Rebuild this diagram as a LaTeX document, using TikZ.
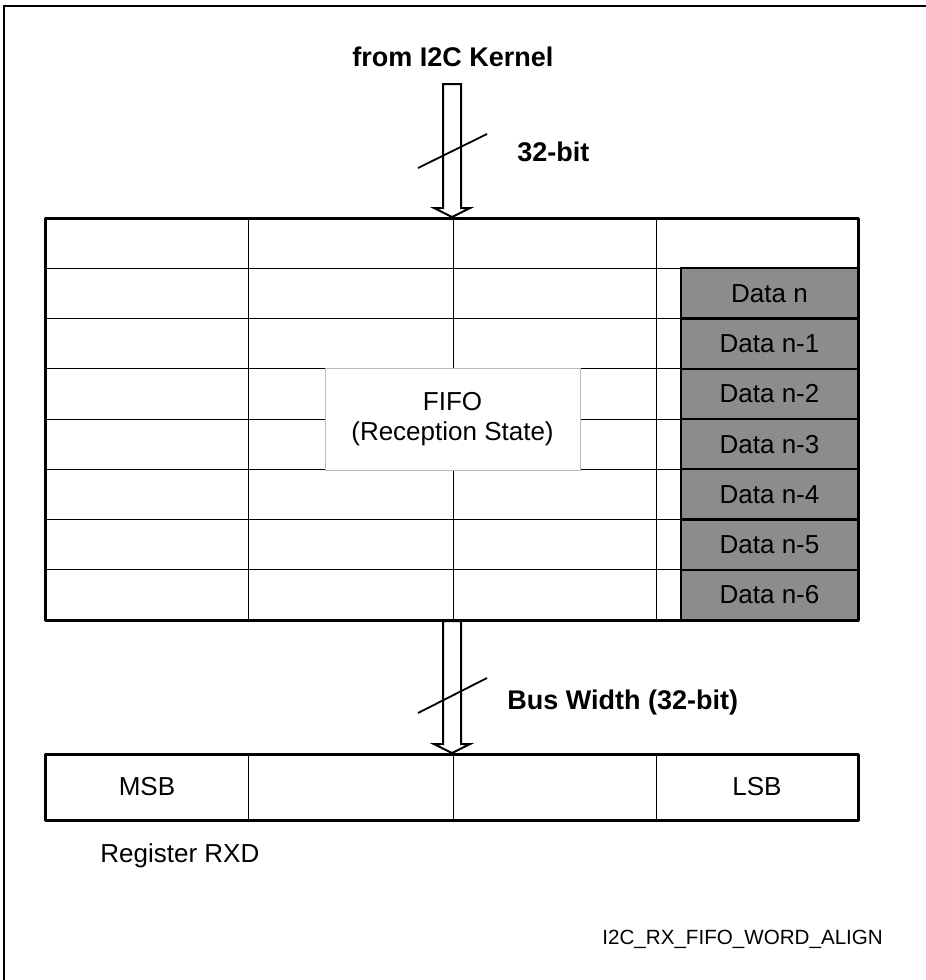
\documentclass[tikz,border=0pt]{standalone}
\usepackage{fontspec}
\setmainfont{Liberation Sans}
\usetikzlibrary{calc}
\definecolor{datagray}{RGB}{140,140,140}

% hollow bus arrow with a cap at the tail
\newcommand{\busarrow}[2]{%
  \draw[bus] ($(#1)+(-9,0)$) -- ($(#2)+(-9,-9)$) -- ($(#2)+(-18,-9)$) -- (#2)
    -- ($(#2)+(18,-9)$) -- ($(#2)+(9,-9)$) -- ($(#1)+(9,0)$) -- cycle;}

\begin{document}
\begin{tikzpicture}[
            x=0.5pt, y=-0.5pt,
            txt/.style={font=\fontsize{13}{15}\selectfont, inner sep=0pt},
            bold/.style={font=\fontsize{13.5}{16}\selectfont\bfseries, inner sep=0pt},
            thin/.style={line width=0.5pt},
            outline/.style={line width=1.5pt, line join=round},
            bus/.style={draw, line width=1pt, fill=white},
            slash/.style={line width=0.9pt},
            datacell/.style={rectangle, draw, line width=1pt, fill=datagray, minimum width=88.5pt, minimum height=25.1pt, inner sep=0pt, font=\fontsize{13}{15}\selectfont},
            label/.style={rectangle, fill=white, draw=gray!55, line width=0.4pt, minimum width=127.5pt, minimum height=51pt, align=center, font=\fontsize{13}{15}\selectfont}
        ]
            \useasboundingbox (0,0) rectangle (926,980);
            \draw[line width=1pt] (4,980) -- (4,6) -- (926,6);

            % FIFO
            \coordinate (fifonw) at (45,218);
            \coordinate (fifose) at (858,620);
            \foreach \r in {1,...,7}
                \draw[thin] (45,{218+50.25*\r}) -- (858,{218+50.25*\r});
            \foreach \c in {248,453,656}
                \draw[thin] (\c,218) -- (\c,620);
            \node[label] (fifo) at (452.5,419) {FIFO\\(Reception State)};
            \foreach \i/\t in {1/n, 2/n-1, 3/n-2, 4/n-3, 5/n-4, 6/n-5, 7/n-6}
                \node[datacell] (data\i) at (769.5,{218+50.25*(\i+0.5)}) {Data \t};
            \draw[outline] (fifonw) rectangle (fifose);

            % register
            \coordinate (rxdnw) at (45,754);
            \coordinate (rxdse) at (858,820);
            \foreach \c in {248,453,656}
                \draw[thin] (\c,754) -- (\c,820);
            \draw[outline] (rxdnw) rectangle (rxdse);
            \node[txt] (msb) at (147,787) {MSB};
            \node[txt] (lsb) at (757,787) {LSB};
            \node[txt, anchor=base west] (rxd) at (100,862) {Register RXD};

            % buses
            \node[bold] (kernel) at (453,57) {from I2C Kernel};
            \coordinate (busin) at (452,84);
            \coordinate (fifoin) at (452,217);
            \coordinate (fifoout) at (452,621);
            \coordinate (rxdin) at (452,753);
            \busarrow{busin}{fifoin}
            \busarrow{fifoout}{rxdin}
            \draw[slash] (418,168) -- (487,134);
            \draw[slash] (418,713) -- (487,678);
            \node[bold, anchor=west] (width1) at (517,152) {32-bit};
            \node[bold, anchor=west] (width2) at (507,703) {Bus Width (32-bit)};

            \node[font=\fontsize{10.3}{12}\selectfont, inner sep=0pt, anchor=base west] (figid) at (602,944) {I2C\_RX\_FIFO\_WORD\_ALIGN};
        \end{tikzpicture}
\end{document}
